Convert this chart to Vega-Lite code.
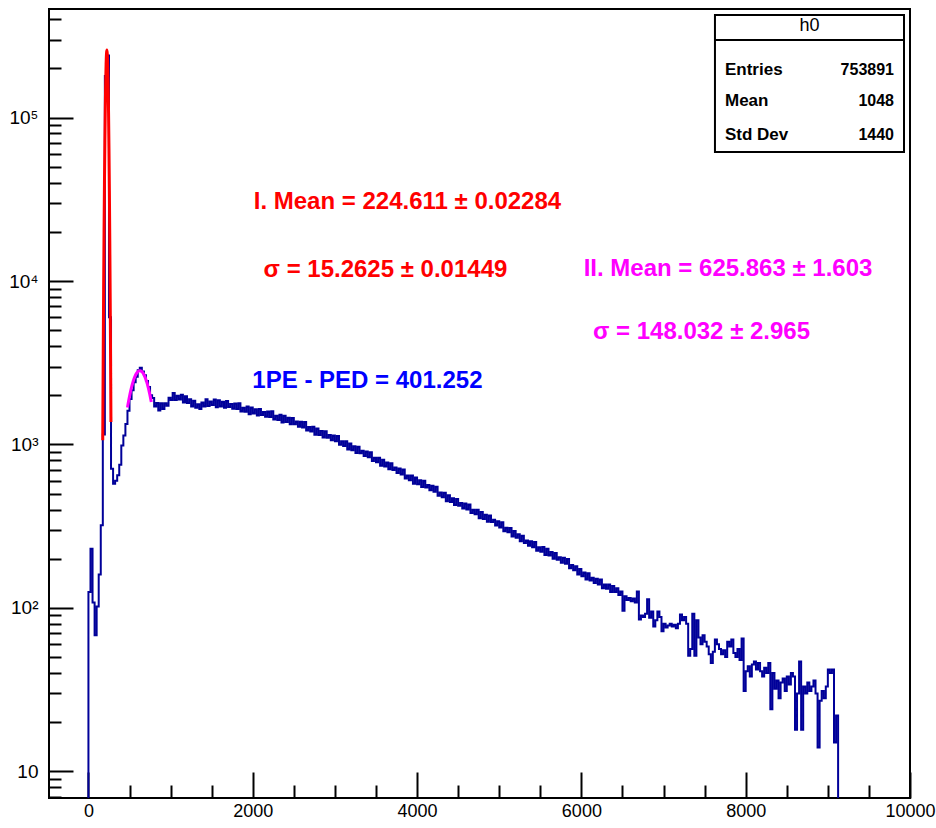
{
  "$schema": "https://vega.github.io/schema/vega-lite/v6.json",
  "autosize": {"type": "none"},
  "padding": {"left": 49, "top": 9, "right": 26, "bottom": 30},
  "width": 861,
  "height": 789,
  "background": "white",
  "config": {
    "view": {"stroke": "#000000", "strokeWidth": 2},
    "font": "Liberation Sans, Arial, sans-serif"
  },
  "resolve": {"axis": {"x": "independent", "y": "independent"}},
  "datasets": {
    "hist": [
      {"adc": -25, "count": 1},
      {"adc": 0, "count": 125}, {"adc": 25, "count": 230}, {"adc": 50, "count": 108}, {"adc": 75, "count": 68},
      {"adc": 100, "count": 102}, {"adc": 125, "count": 160}, {"adc": 150, "count": 320}, {"adc": 175, "count": 1150},
      {"adc": 200, "count": 180000}, {"adc": 225, "count": 240000}, {"adc": 250, "count": 6000}, {"adc": 275, "count": 711},
      {"adc": 300, "count": 575}, {"adc": 325, "count": 600}, {"adc": 350, "count": 648}, {"adc": 375, "count": 751},
      {"adc": 400, "count": 986}, {"adc": 425, "count": 1135}, {"adc": 450, "count": 1337}, {"adc": 475, "count": 1611},
      {"adc": 500, "count": 1900}, {"adc": 525, "count": 2150}, {"adc": 550, "count": 2400}, {"adc": 575, "count": 2600},
      {"adc": 600, "count": 2850}, {"adc": 625, "count": 2950}, {"adc": 650, "count": 2800}, {"adc": 675, "count": 2650},
      {"adc": 700, "count": 2450}, {"adc": 725, "count": 2250}, {"adc": 750, "count": 2000},
      {"adc": 775, "count": 1924}, {"adc": 800, "count": 1709}, {"adc": 825, "count": 1792}, {"adc": 850, "count": 1615},
      {"adc": 875, "count": 1785}, {"adc": 900, "count": 1649}, {"adc": 925, "count": 1785}, {"adc": 950, "count": 1728},
      {"adc": 975, "count": 1934}, {"adc": 1000, "count": 1872}, {"adc": 1025, "count": 2067}, {"adc": 1050, "count": 1872},
      {"adc": 1075, "count": 1985}, {"adc": 1100, "count": 1882}, {"adc": 1125, "count": 2018}, {"adc": 1150, "count": 1805},
      {"adc": 1175, "count": 1971}, {"adc": 1200, "count": 1795}, {"adc": 1225, "count": 1890}, {"adc": 1250, "count": 1710},
      {"adc": 1275, "count": 1853}, {"adc": 1300, "count": 1678}, {"adc": 1325, "count": 1760}, {"adc": 1350, "count": 1651},
      {"adc": 1375, "count": 1810}, {"adc": 1400, "count": 1707}, {"adc": 1425, "count": 1892}, {"adc": 1450, "count": 1720},
      {"adc": 1475, "count": 1833}, {"adc": 1500, "count": 1747}, {"adc": 1525, "count": 1882}, {"adc": 1550, "count": 1692},
      {"adc": 1575, "count": 1862}, {"adc": 1600, "count": 1709}, {"adc": 1625, "count": 1825}, {"adc": 1650, "count": 1677},
      {"adc": 1675, "count": 1845}, {"adc": 1700, "count": 1698}, {"adc": 1725, "count": 1772}, {"adc": 1750, "count": 1656},
      {"adc": 1775, "count": 1780}, {"adc": 1800, "count": 1649}, {"adc": 1825, "count": 1788}, {"adc": 1850, "count": 1591},
      {"adc": 1875, "count": 1679}, {"adc": 1900, "count": 1584}, {"adc": 1925, "count": 1706}, {"adc": 1950, "count": 1532},
      {"adc": 1975, "count": 1685}, {"adc": 2000, "count": 1546}, {"adc": 2025, "count": 1645}, {"adc": 2050, "count": 1506},
      {"adc": 2075, "count": 1651}, {"adc": 2100, "count": 1513}, {"adc": 2125, "count": 1581}, {"adc": 2150, "count": 1478},
      {"adc": 2175, "count": 1591}, {"adc": 2200, "count": 1474}, {"adc": 2225, "count": 1597}, {"adc": 2250, "count": 1420},
      {"adc": 2275, "count": 1497}, {"adc": 2300, "count": 1411}, {"adc": 2325, "count": 1518}, {"adc": 2350, "count": 1363},
      {"adc": 2375, "count": 1498}, {"adc": 2400, "count": 1373}, {"adc": 2425, "count": 1457}, {"adc": 2450, "count": 1330},
      {"adc": 2475, "count": 1454}, {"adc": 2500, "count": 1329}, {"adc": 2525, "count": 1382}, {"adc": 2550, "count": 1286},
      {"adc": 2575, "count": 1378}, {"adc": 2600, "count": 1271}, {"adc": 2625, "count": 1373}, {"adc": 2650, "count": 1216},
      {"adc": 2675, "count": 1278}, {"adc": 2700, "count": 1200}, {"adc": 2725, "count": 1284}, {"adc": 2750, "count": 1147},
      {"adc": 2775, "count": 1253}, {"adc": 2800, "count": 1142}, {"adc": 2825, "count": 1211}, {"adc": 2850, "count": 1104},
      {"adc": 2875, "count": 1205}, {"adc": 2900, "count": 1101}, {"adc": 2925, "count": 1143}, {"adc": 2950, "count": 1063},
      {"adc": 2975, "count": 1137}, {"adc": 3000, "count": 1048}, {"adc": 3025, "count": 1129}, {"adc": 3050, "count": 998},
      {"adc": 3075, "count": 1045}, {"adc": 3100, "count": 979}, {"adc": 3125, "count": 1045}, {"adc": 3150, "count": 931},
      {"adc": 3175, "count": 1014}, {"adc": 3200, "count": 922}, {"adc": 3225, "count": 975}, {"adc": 3250, "count": 888},
      {"adc": 3275, "count": 968}, {"adc": 3300, "count": 883}, {"adc": 3325, "count": 915}, {"adc": 3350, "count": 850},
      {"adc": 3375, "count": 907}, {"adc": 3400, "count": 834}, {"adc": 3425, "count": 898}, {"adc": 3450, "count": 793},
      {"adc": 3475, "count": 830}, {"adc": 3500, "count": 778}, {"adc": 3525, "count": 830}, {"adc": 3550, "count": 740},
      {"adc": 3575, "count": 807}, {"adc": 3600, "count": 734}, {"adc": 3625, "count": 777}, {"adc": 3650, "count": 705},
      {"adc": 3675, "count": 768}, {"adc": 3700, "count": 698}, {"adc": 3725, "count": 723}, {"adc": 3750, "count": 669},
      {"adc": 3775, "count": 713}, {"adc": 3800, "count": 655}, {"adc": 3825, "count": 704}, {"adc": 3850, "count": 619},
      {"adc": 3875, "count": 647}, {"adc": 3900, "count": 605}, {"adc": 3925, "count": 646}, {"adc": 3950, "count": 575},
      {"adc": 3975, "count": 628}, {"adc": 4000, "count": 571}, {"adc": 4025, "count": 605}, {"adc": 4050, "count": 549},
      {"adc": 4075, "count": 599}, {"adc": 4100, "count": 545}, {"adc": 4125, "count": 565}, {"adc": 4150, "count": 524},
      {"adc": 4175, "count": 560}, {"adc": 4200, "count": 514}, {"adc": 4225, "count": 552}, {"adc": 4250, "count": 486},
      {"adc": 4275, "count": 509}, {"adc": 4300, "count": 475}, {"adc": 4325, "count": 506}, {"adc": 4350, "count": 449},
      {"adc": 4375, "count": 489}, {"adc": 4400, "count": 444}, {"adc": 4425, "count": 469}, {"adc": 4450, "count": 426},
      {"adc": 4475, "count": 464}, {"adc": 4500, "count": 422}, {"adc": 4525, "count": 438}, {"adc": 4550, "count": 406},
      {"adc": 4575, "count": 435}, {"adc": 4600, "count": 400}, {"adc": 4625, "count": 430}, {"adc": 4650, "count": 381},
      {"adc": 4675, "count": 399}, {"adc": 4700, "count": 374}, {"adc": 4725, "count": 399}, {"adc": 4750, "count": 354},
      {"adc": 4775, "count": 386}, {"adc": 4800, "count": 350}, {"adc": 4825, "count": 371}, {"adc": 4850, "count": 337},
      {"adc": 4875, "count": 368}, {"adc": 4900, "count": 335}, {"adc": 4925, "count": 346}, {"adc": 4950, "count": 319},
      {"adc": 4975, "count": 339}, {"adc": 5000, "count": 310}, {"adc": 5025, "count": 334}, {"adc": 5050, "count": 295},
      {"adc": 5075, "count": 309}, {"adc": 5100, "count": 290}, {"adc": 5125, "count": 308}, {"adc": 5150, "count": 274},
      {"adc": 5175, "count": 296}, {"adc": 5200, "count": 269}, {"adc": 5225, "count": 282}, {"adc": 5250, "count": 256},
      {"adc": 5275, "count": 276}, {"adc": 5300, "count": 250}, {"adc": 5325, "count": 259}, {"adc": 5350, "count": 240},
      {"adc": 5375, "count": 256}, {"adc": 5400, "count": 235}, {"adc": 5425, "count": 253}, {"adc": 5450, "count": 224},
      {"adc": 5475, "count": 235}, {"adc": 5500, "count": 221}, {"adc": 5525, "count": 236}, {"adc": 5550, "count": 211},
      {"adc": 5575, "count": 230}, {"adc": 5600, "count": 209}, {"adc": 5625, "count": 220}, {"adc": 5650, "count": 200},
      {"adc": 5675, "count": 217}, {"adc": 5700, "count": 197}, {"adc": 5725, "count": 204}, {"adc": 5750, "count": 189},
      {"adc": 5775, "count": 203}, {"adc": 5800, "count": 186}, {"adc": 5825, "count": 199}, {"adc": 5850, "count": 175},
      {"adc": 5875, "count": 183}, {"adc": 5900, "count": 170}, {"adc": 5925, "count": 180}, {"adc": 5950, "count": 160},
      {"adc": 5975, "count": 173}, {"adc": 6000, "count": 156}, {"adc": 6025, "count": 165}, {"adc": 6050, "count": 149},
      {"adc": 6075, "count": 163}, {"adc": 6100, "count": 147}, {"adc": 6125, "count": 153}, {"adc": 6150, "count": 142},
      {"adc": 6175, "count": 151}, {"adc": 6200, "count": 139}, {"adc": 6225, "count": 149}, {"adc": 6250, "count": 132},
      {"adc": 6275, "count": 139}, {"adc": 6300, "count": 131}, {"adc": 6325, "count": 139}, {"adc": 6350, "count": 125},
      {"adc": 6375, "count": 136}, {"adc": 6400, "count": 125}, {"adc": 6425, "count": 132}, {"adc": 6450, "count": 120},
      {"adc": 6475, "count": 126},
      {"adc": 6500, "count": 96}, {"adc": 6525, "count": 118}, {"adc": 6550, "count": 112}, {"adc": 6575, "count": 115},
      {"adc": 6600, "count": 110}, {"adc": 6625, "count": 114}, {"adc": 6650, "count": 108}, {"adc": 6675, "count": 126},
      {"adc": 6700, "count": 85}, {"adc": 6725, "count": 90}, {"adc": 6750, "count": 88}, {"adc": 6775, "count": 92},
      {"adc": 6800, "count": 113}, {"adc": 6825, "count": 87}, {"adc": 6850, "count": 95}, {"adc": 6875, "count": 77},
      {"adc": 6900, "count": 84}, {"adc": 6925, "count": 95}, {"adc": 6950, "count": 88}, {"adc": 6975, "count": 72},
      {"adc": 7000, "count": 80}, {"adc": 7025, "count": 76}, {"adc": 7050, "count": 78}, {"adc": 7075, "count": 80},
      {"adc": 7100, "count": 77}, {"adc": 7125, "count": 79}, {"adc": 7150, "count": 75}, {"adc": 7175, "count": 80},
      {"adc": 7200, "count": 91}, {"adc": 7225, "count": 84}, {"adc": 7250, "count": 88}, {"adc": 7275, "count": 80},
      {"adc": 7300, "count": 51}, {"adc": 7325, "count": 56}, {"adc": 7350, "count": 92}, {"adc": 7375, "count": 51},
      {"adc": 7400, "count": 84}, {"adc": 7425, "count": 66}, {"adc": 7450, "count": 60}, {"adc": 7475, "count": 68},
      {"adc": 7500, "count": 62}, {"adc": 7525, "count": 58}, {"adc": 7550, "count": 52}, {"adc": 7575, "count": 46},
      {"adc": 7600, "count": 54}, {"adc": 7625, "count": 64}, {"adc": 7650, "count": 60}, {"adc": 7675, "count": 56},
      {"adc": 7700, "count": 52}, {"adc": 7725, "count": 55}, {"adc": 7750, "count": 50}, {"adc": 7775, "count": 62},
      {"adc": 7800, "count": 58}, {"adc": 7825, "count": 64}, {"adc": 7850, "count": 53}, {"adc": 7875, "count": 50},
      {"adc": 7900, "count": 56}, {"adc": 7925, "count": 48}, {"adc": 7950, "count": 65}, {"adc": 7975, "count": 31},
      {"adc": 8000, "count": 41}, {"adc": 8025, "count": 44}, {"adc": 8050, "count": 38}, {"adc": 8075, "count": 45},
      {"adc": 8100, "count": 47}, {"adc": 8125, "count": 42}, {"adc": 8150, "count": 46}, {"adc": 8175, "count": 41},
      {"adc": 8200, "count": 38}, {"adc": 8225, "count": 43}, {"adc": 8250, "count": 40}, {"adc": 8275, "count": 46},
      {"adc": 8300, "count": 24}, {"adc": 8325, "count": 40}, {"adc": 8350, "count": 32}, {"adc": 8375, "count": 36},
      {"adc": 8400, "count": 28}, {"adc": 8425, "count": 35}, {"adc": 8450, "count": 37}, {"adc": 8475, "count": 31},
      {"adc": 8500, "count": 38}, {"adc": 8525, "count": 34}, {"adc": 8550, "count": 40}, {"adc": 8575, "count": 38},
      {"adc": 8600, "count": 18}, {"adc": 8625, "count": 30}, {"adc": 8650, "count": 47}, {"adc": 8675, "count": 18},
      {"adc": 8700, "count": 33}, {"adc": 8725, "count": 30}, {"adc": 8750, "count": 35}, {"adc": 8775, "count": 31},
      {"adc": 8800, "count": 33}, {"adc": 8825, "count": 36}, {"adc": 8850, "count": 30}, {"adc": 8875, "count": 14},
      {"adc": 8900, "count": 27}, {"adc": 8925, "count": 31}, {"adc": 8950, "count": 28}, {"adc": 8975, "count": 33},
      {"adc": 9000, "count": 42}, {"adc": 9025, "count": 40}, {"adc": 9050, "count": 42}, {"adc": 9075, "count": 15},
      {"adc": 9100, "count": 22}, {"adc": 9125, "count": 1}
    ],
    "fit1": [
      {"adc": 174, "f": 1062}, {"adc": 180, "f": 3613}, {"adc": 185, "f": 8935}, {"adc": 190, "f": 19820},
      {"adc": 195, "f": 39440}, {"adc": 200, "f": 70660}, {"adc": 205, "f": 113500}, {"adc": 210, "f": 163800},
      {"adc": 215, "f": 212500}, {"adc": 220, "f": 247500}, {"adc": 224.6, "f": 259000}, {"adc": 230, "f": 243300},
      {"adc": 235, "f": 205300}, {"adc": 240, "f": 155700}, {"adc": 245, "f": 105900}, {"adc": 250, "f": 64830},
      {"adc": 255, "f": 35620}, {"adc": 260, "f": 17560}, {"adc": 265, "f": 7791}, {"adc": 270, "f": 3100},
      {"adc": 274, "f": 1373}
    ],
    "fit2": [
      {"adc": 475, "f": 1683}, {"adc": 485, "f": 1799}, {"adc": 505, "f": 2027}, {"adc": 525, "f": 2243},
      {"adc": 545, "f": 2437}, {"adc": 565, "f": 2600}, {"adc": 585, "f": 2724}, {"adc": 605, "f": 2802},
      {"adc": 626, "f": 2830}, {"adc": 645, "f": 2807}, {"adc": 665, "f": 2733}, {"adc": 685, "f": 2613},
      {"adc": 705, "f": 2453}, {"adc": 725, "f": 2262}, {"adc": 745, "f": 2047}, {"adc": 765, "f": 1820}
    ]
  },
  "layer": [
    {
      "data": {"name": "hist"},
      "mark": {"type": "line", "interpolate": "step-after", "color": "#000099", "strokeWidth": 2, "clip": true},
      "encoding": {
        "x": {
          "field": "adc", "type": "quantitative",
          "scale": {"type": "linear", "domain": [-480, 10000], "nice": false, "zero": false},
          "axis": {
            "orient": "bottom", "title": null, "domain": false, "grid": false,
            "values": [0, 2000, 4000, 6000, 8000, 10000],
            "format": "d",
            "tickSize": -26, "tickColor": "#000000", "tickWidth": 2,
            "labelFontSize": 18, "labelColor": "#000000", "labelPadding": 30,
            "labelOverlap": false, "labelFlush": false, "labelBaseline": "top"
          }
        },
        "y": {
          "field": "count", "type": "quantitative",
          "scale": {"type": "log", "domain": [6.87, 462000], "nice": false},
          "axis": {
            "orient": "left", "title": null, "domain": false, "grid": false,
            "values": [10, 100, 1000, 10000, 100000],
            "labelExpr": "datum.value === 10 ? '10' : datum.value === 100 ? '10²' : datum.value === 1000 ? '10³' : datum.value === 10000 ? '10⁴' : '10⁵'",
            "tickSize": -24, "tickColor": "#000000", "tickWidth": 2,
            "labelFontSize": 19, "labelColor": "#000000", "labelPadding": 35,
            "labelOverlap": false, "labelFlush": false
          }
        }
      }
    },
    {
      "data": {"name": "fit1"},
      "mark": {"type": "line", "interpolate": "monotone", "color": "#ff0000", "strokeWidth": 3, "clip": true},
      "encoding": {
        "x": {
          "field": "adc", "type": "quantitative",
          "scale": {"type": "linear", "domain": [-480, 10000], "nice": false, "zero": false},
          "axis": {
            "orient": "bottom", "title": null, "domain": false, "grid": false, "labels": false,
            "values": [500, 1000, 1500, 2500, 3000, 3500, 4500, 5000, 5500, 6500, 7000, 7500, 8500, 9000, 9500],
            "tickSize": -13, "tickColor": "#000000", "tickWidth": 2
          }
        },
        "y": {
          "field": "f", "type": "quantitative",
          "scale": {"type": "log", "domain": [6.87, 462000], "nice": false},
          "axis": {
            "orient": "left", "title": null, "domain": false, "grid": false, "labels": false,
            "values": [7, 8, 9, 20, 30, 40, 50, 60, 70, 80, 90, 200, 300, 400, 500, 600, 700, 800, 900, 2000, 3000, 4000, 5000, 6000, 7000, 8000, 9000, 20000, 30000, 40000, 50000, 60000, 70000, 80000, 90000, 200000, 300000, 400000],
            "tickSize": -12, "tickColor": "#000000", "tickWidth": 2
          }
        }
      }
    },
    {
      "data": {"name": "fit2"},
      "mark": {"type": "line", "interpolate": "monotone", "color": "#ff00ff", "strokeWidth": 3, "clip": true},
      "encoding": {
        "x": {"field": "adc", "type": "quantitative", "scale": {"type": "linear", "domain": [-480, 10000], "nice": false, "zero": false}, "axis": null},
        "y": {"field": "f", "type": "quantitative", "scale": {"type": "log", "domain": [6.87, 462000], "nice": false}, "axis": null}
      }
    },
    {
      "data": {"values": [{"t": "I. Mean = 224.611 ± 0.02284"}]},
      "mark": {"type": "text", "color": "#ff0000", "fontSize": 24, "fontWeight": "bold", "align": "center", "baseline": "middle"},
      "encoding": {
        "x": {"datum": 3883, "type": "quantitative", "axis": null},
        "y": {"datum": 30480, "type": "quantitative", "axis": null},
        "text": {"field": "t"}
      }
    },
    {
      "data": {"values": [{"t": "σ = 15.2625 ± 0.01449"}]},
      "mark": {"type": "text", "color": "#ff0000", "fontSize": 24, "fontWeight": "bold", "align": "center", "baseline": "middle"},
      "encoding": {
        "x": {"datum": 3615, "type": "quantitative", "axis": null},
        "y": {"datum": 11700, "type": "quantitative", "axis": null},
        "text": {"field": "t"}
      }
    },
    {
      "data": {"values": [{"t": "1PE - PED = 401.252"}]},
      "mark": {"type": "text", "color": "#0000ff", "fontSize": 24, "fontWeight": "bold", "align": "center", "baseline": "middle"},
      "encoding": {
        "x": {"datum": 3396, "type": "quantitative", "axis": null},
        "y": {"datum": 2447, "type": "quantitative", "axis": null},
        "text": {"field": "t"}
      }
    },
    {
      "data": {"values": [{"t": "II. Mean = 625.863  ± 1.603"}]},
      "mark": {"type": "text", "color": "#ff00ff", "fontSize": 24, "fontWeight": "bold", "align": "center", "baseline": "middle"},
      "encoding": {
        "x": {"datum": 7785, "type": "quantitative", "axis": null},
        "y": {"datum": 11780, "type": "quantitative", "axis": null},
        "text": {"field": "t"}
      }
    },
    {
      "data": {"values": [{"t": "σ = 148.032 ± 2.965"}]},
      "mark": {"type": "text", "color": "#ff00ff", "fontSize": 24, "fontWeight": "bold", "align": "center", "baseline": "middle"},
      "encoding": {
        "x": {"datum": 7462, "type": "quantitative", "axis": null},
        "y": {"datum": 4881, "type": "quantitative", "axis": null},
        "text": {"field": "t"}
      }
    },
    {
      "data": {"values": [{"name": "h0"}]},
      "mark": {"type": "rect", "fill": "#ffffff", "stroke": "#000000", "strokeWidth": 2},
      "encoding": {
        "x": {"datum": 7626, "type": "quantitative", "axis": null},
        "x2": {"datum": 9927},
        "y": {"datum": 425100, "type": "quantitative", "axis": null},
        "y2": {"datum": 61630}
      }
    },
    {
      "data": {"values": [{"name": "h0"}]},
      "mark": {"type": "rule", "color": "#000000", "strokeWidth": 2},
      "encoding": {
        "x": {"datum": 7626, "type": "quantitative", "axis": null},
        "x2": {"datum": 9927},
        "y": {"datum": 298900, "type": "quantitative", "axis": null}
      }
    },
    {
      "data": {"values": [{"name": "h0"}]},
      "mark": {"type": "text", "color": "#000000", "fontSize": 18, "align": "center", "baseline": "middle"},
      "encoding": {
        "x": {"datum": 8777, "type": "quantitative", "axis": null},
        "y": {"datum": 361600, "type": "quantitative", "axis": null},
        "text": {"field": "name"}
      }
    },
    {
      "data": {"values": [{"k": "Entries", "v": "753891"}]},
      "layer": [
        {
          "mark": {"type": "text", "color": "#000000", "fontSize": 17, "fontWeight": "bold", "align": "left", "baseline": "middle"},
          "encoding": {"x": {"datum": 7748, "type": "quantitative", "axis": null}, "y": {"datum": 195700, "type": "quantitative", "axis": null}, "text": {"field": "k"}}
        },
        {
          "mark": {"type": "text", "color": "#000000", "fontSize": 16, "fontWeight": "bold", "align": "right", "baseline": "middle"},
          "encoding": {"x": {"datum": 9805, "type": "quantitative", "axis": null}, "y": {"datum": 195700, "type": "quantitative", "axis": null}, "text": {"field": "v"}}
        }
      ]
    },
    {
      "data": {"values": [{"k": "Mean", "v": "1048"}]},
      "layer": [
        {
          "mark": {"type": "text", "color": "#000000", "fontSize": 17, "fontWeight": "bold", "align": "left", "baseline": "middle"},
          "encoding": {"x": {"datum": 7748, "type": "quantitative", "axis": null}, "y": {"datum": 126600, "type": "quantitative", "axis": null}, "text": {"field": "k"}}
        },
        {
          "mark": {"type": "text", "color": "#000000", "fontSize": 16, "fontWeight": "bold", "align": "right", "baseline": "middle"},
          "encoding": {"x": {"datum": 9805, "type": "quantitative", "axis": null}, "y": {"datum": 126600, "type": "quantitative", "axis": null}, "text": {"field": "v"}}
        }
      ]
    },
    {
      "data": {"values": [{"k": "Std Dev", "v": "1440"}]},
      "layer": [
        {
          "mark": {"type": "text", "color": "#000000", "fontSize": 17, "fontWeight": "bold", "align": "left", "baseline": "middle"},
          "encoding": {"x": {"datum": 7748, "type": "quantitative", "axis": null}, "y": {"datum": 78300, "type": "quantitative", "axis": null}, "text": {"field": "k"}}
        },
        {
          "mark": {"type": "text", "color": "#000000", "fontSize": 16, "fontWeight": "bold", "align": "right", "baseline": "middle"},
          "encoding": {"x": {"datum": 9805, "type": "quantitative", "axis": null}, "y": {"datum": 78300, "type": "quantitative", "axis": null}, "text": {"field": "v"}}
        }
      ]
    }
  ]
}
